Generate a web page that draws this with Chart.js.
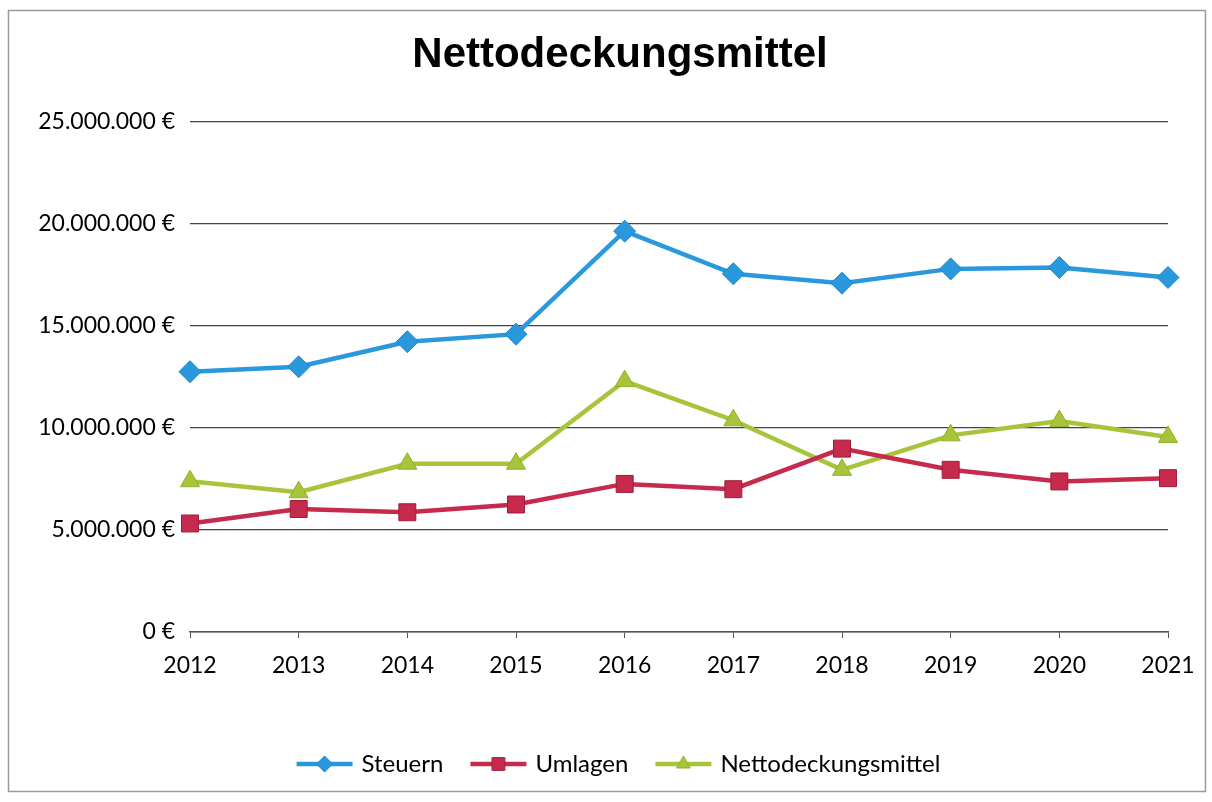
<!DOCTYPE html>
<html>
<head>
<meta charset="utf-8">
<script src="https://cdn.jsdelivr.net/npm/chart.js@4"></script>
<style>
  html, body { margin: 0; padding: 0; background: #fff; }
  #wrap { width: 1212px; height: 802px; }
</style>
</head>
<body>
<div id="wrap"><canvas id="chart-netto" width="1212" height="802"></canvas></div>
<script>
// values (EUR)
const years = ['2012', '2013', '2014', '2015', '2016', '2017', '2018', '2019', '2020', '2021']
const steuern = [12760000, 13000000, 14230000, 14600000, 19650000, 17560000, 17100000, 17800000, 17870000, 17380000]
const umlagen = [5320000, 6030000, 5870000, 6250000, 7260000, 7000000, 8990000, 7950000, 7380000, 7540000]
const nettodeckungsmittel = [7390000, 6850000, 8250000, 8250000, 12300000, 10380000, 7950000, 9640000, 10340000, 9560000]
const yTicks = [0, 5000000, 10000000, 15000000, 20000000, 25000000]

const fontFamily = 'Lato, "Open Sans", sans-serif'

function euro(v) {
  return String(v).replace(/\B(?=(\d{3})+(?!\d))/g, '.') + ' €'
}

// small line+marker icon for the legend, like the Excel legend
function legendIcon(color, border, style, r) {
  const c = document.createElement('canvas')
  c.width = 58
  c.height = 24
  const ctx = c.getContext('2d')
  ctx.strokeStyle = color
  ctx.lineWidth = 4.5
  ctx.beginPath()
  ctx.moveTo(1, 12)
  ctx.lineTo(57, 12)
  ctx.stroke()
  ctx.fillStyle = color
  ctx.strokeStyle = border
  ctx.lineWidth = 1
  Chart.helpers.drawPoint(ctx, { pointStyle: style, radius: r, borderWidth: 1 }, 29, 12)
  return c
}

// scan frame around the whole chart
const framePlugin = {
  id: 'frame',
  beforeDraw(chart) {
    const ctx = chart.ctx
    ctx.save()
    ctx.fillStyle = '#fff'
    ctx.fillRect(0, 0, chart.width, chart.height)
    ctx.strokeStyle = '#9a9a9a'
    ctx.lineWidth = 1.5
    ctx.strokeRect(8.5, 10.5, 1197, 781)
    ctx.restore()
  }
}

const series = [
  { label: 'Steuern', data: steuern, color: '#2a98dc', border: '#1f86c8', style: 'rectRot', r: 11 },
  { label: 'Umlagen', data: umlagen, color: '#c62a4c', border: '#9e1d3a', style: 'rect', r: 12 },
  { label: 'Nettodeckungsmittel', data: nettodeckungsmittel, color: '#a7c43a', border: '#93b02c', style: 'triangle', r: 11 }
]

const configNetto = {
  type: 'line',
  data: {
    labels: years,
    datasets: series.map(s => ({
      label: s.label,
      data: s.data,
      borderColor: s.color,
      backgroundColor: s.color,
      borderWidth: 4.5,
      tension: 0,
      pointStyle: s.style,
      pointRadius: s.r,
      pointBackgroundColor: s.color,
      pointBorderColor: s.border,
      pointBorderWidth: 1,
      icon: legendIcon(s.color, s.border, s.style, s.r - 3)
    }))
  },
  options: {
    responsive: false,
    animation: false,
    layout: { padding: { left: 28, right: 0, top: 0, bottom: 16 } },
    plugins: {
      title: {
        display: true,
        text: 'Nettodeckungsmittel',
        color: '#000',
        font: { family: '"Liberation Sans", Arial, sans-serif', size: 42, weight: 'bold' },
        padding: { top: 30, bottom: 41.6 }
      },
      legend: {
        position: 'bottom',
        labels: {
          color: '#000',
          font: { family: fontFamily, size: 24 },
          usePointStyle: true,
          pointStyleWidth: 50,
          padding: 30,
          generateLabels(chart) {
            return chart.data.datasets.map((ds, i) => ({
              text: ds.label,
              pointStyle: ds.icon,
              fillStyle: ds.borderColor,
              strokeStyle: ds.borderColor,
              lineWidth: 0,
              hidden: false,
              datasetIndex: i,
              fontColor: '#000'
            }))
          }
        }
      },
      tooltip: { enabled: false }
    },
    scales: {
      x: {
        offset: false,
        grid: { drawOnChartArea: false, drawTicks: true, tickLength: 6, color: '#555' },
        border: { color: '#555', width: 1.5 },
        ticks: { color: '#000', font: { family: fontFamily, size: 23 }, padding: 14, maxRotation: 0 },
        afterFit(scale) { scale.height = 90 }
      },
      y: {
        min: 0,
        max: 25000000,
        afterBuildTicks(scale) { scale.ticks = yTicks.map(v => ({ value: v })) },
        grid: { color: '#444', lineWidth: 1.2, drawTicks: false },
        border: { display: false },
        ticks: {
          color: '#000',
          font: { family: fontFamily, size: 23 },
          padding: 15,
          callback: v => euro(v)
        },
        afterFit(scale) { scale.width = 162 }
      },
      // empty right margin so title and legend centre like the original
      yRight: {
        position: 'right',
        min: 0,
        max: 1,
        grid: { display: false },
        border: { display: false },
        ticks: { display: false },
        afterFit(scale) { scale.width = 44 }
      }
    }
  },
  plugins: [framePlugin]
}

const chartNetto = document.getElementById('chart-netto')
window.myLine = new Chart(chartNetto, configNetto)
</script>
</body>
</html>
